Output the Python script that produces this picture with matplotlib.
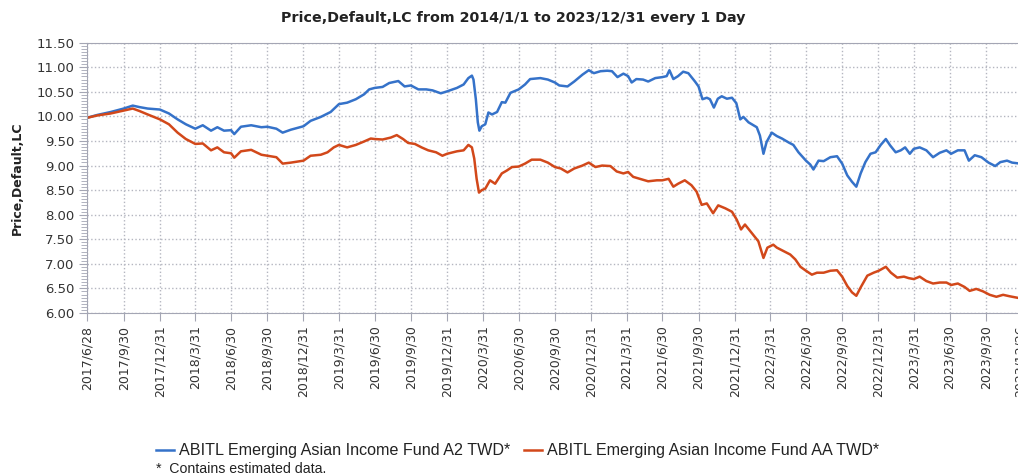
import pandas as pd
import matplotlib
matplotlib.use('Agg')
import matplotlib.pyplot as plt
from matplotlib.ticker import MultipleLocator, AutoMinorLocator, FormatStrFormatter

title = 'Price,Default,LC from 2014/1/1 to 2023/12/31 every 1 Day'
y_label = 'Price,Default,LC'
series_names = ['ABITL Emerging Asian Income Fund A2 TWD*',
                'ABITL Emerging Asian Income Fund AA TWD*']
footnote = '*  Contains estimated data.'

tick_labels = ['2017/6/28', '2017/9/30', '2017/12/31', '2018/3/31', '2018/6/30',
               '2018/9/30', '2018/12/31', '2019/3/31', '2019/6/30', '2019/9/30',
               '2019/12/31', '2020/3/31', '2020/6/30', '2020/9/30', '2020/12/31',
               '2021/3/31', '2021/6/30', '2021/9/30', '2021/12/31', '2022/3/31',
               '2022/6/30', '2022/9/30', '2022/12/31', '2023/3/31', '2023/6/30',
               '2023/9/30', '2023/12/26']

# A2 TWD (blue)
a2_dates = ['2017-06-28', '2017-07-25', '2017-08-28', '2017-09-30', '2017-10-23',
            '2017-11-09', '2017-11-30', '2017-12-31', '2018-01-23', '2018-02-14',
            '2018-03-07', '2018-03-31', '2018-04-19', '2018-05-10', '2018-05-26',
            '2018-06-12', '2018-06-30', '2018-07-08', '2018-07-25', '2018-08-20',
            '2018-09-15', '2018-09-30', '2018-10-23', '2018-11-08', '2018-11-29',
            '2018-12-31', '2019-01-18', '2019-02-13', '2019-03-10', '2019-03-31',
            '2019-04-21', '2019-05-13', '2019-06-03', '2019-06-16', '2019-06-30',
            '2019-07-20', '2019-08-06', '2019-08-29', '2019-09-14', '2019-09-30',
            '2019-10-19', '2019-11-08', '2019-11-24', '2019-12-15', '2019-12-31',
            '2020-01-25', '2020-02-11', '2020-02-23', '2020-03-03', '2020-03-07',
            '2020-03-13', '2020-03-18', '2020-03-22', '2020-03-28', '2020-04-06',
            '2020-04-14', '2020-04-23', '2020-05-06', '2020-05-18', '2020-05-27',
            '2020-06-09', '2020-06-30', '2020-07-16', '2020-07-29', '2020-08-24',
            '2020-09-12', '2020-09-30', '2020-10-11', '2020-11-01', '2020-11-18',
            '2020-12-09', '2020-12-25', '2021-01-07', '2021-01-24', '2021-02-10',
            '2021-02-22', '2021-03-08', '2021-03-23', '2021-04-04', '2021-04-13',
            '2021-04-25', '2021-05-12', '2021-05-25', '2021-06-12', '2021-06-30',
            '2021-07-11', '2021-07-18', '2021-07-28', '2021-08-09', '2021-08-22',
            '2021-09-04', '2021-09-21', '2021-09-30', '2021-10-10', '2021-10-21',
            '2021-10-29', '2021-11-08', '2021-11-18', '2021-11-28', '2021-12-11',
            '2021-12-24', '2022-01-04', '2022-01-14', '2022-01-22', '2022-02-04',
            '2022-02-25', '2022-03-05', '2022-03-14', '2022-03-22', '2022-04-04',
            '2022-04-17', '2022-04-30', '2022-05-17', '2022-05-29', '2022-06-11',
            '2022-06-30', '2022-07-11', '2022-07-19', '2022-08-01', '2022-08-14',
            '2022-08-31', '2022-09-17', '2022-09-30', '2022-10-13', '2022-10-25',
            '2022-11-05', '2022-11-16', '2022-11-28', '2022-12-11', '2022-12-24',
            '2023-01-06', '2023-01-19', '2023-01-30', '2023-02-13', '2023-02-26',
            '2023-03-09', '2023-03-21', '2023-03-31', '2023-04-15', '2023-05-02',
            '2023-05-19', '2023-06-05', '2023-06-22', '2023-07-04', '2023-07-21',
            '2023-08-07', '2023-08-18', '2023-09-02', '2023-09-19', '2023-10-07',
            '2023-10-24', '2023-11-06', '2023-11-23', '2023-12-06', '2023-12-26']
a2_prices = [9.97, 10.03, 10.09, 10.16, 10.22,
             10.19, 10.16, 10.14, 10.06, 9.94,
             9.84, 9.75, 9.82, 9.71, 9.78,
             9.71, 9.72, 9.64, 9.79, 9.82,
             9.78, 9.79, 9.75, 9.67, 9.73,
             9.80, 9.91, 9.99, 10.09, 10.25,
             10.28, 10.35, 10.45, 10.55, 10.58,
             10.60, 10.68, 10.72, 10.61, 10.63,
             10.55, 10.55, 10.53, 10.47, 10.51,
             10.58, 10.65, 10.78, 10.83, 10.75,
             10.35, 9.88, 9.71, 9.80, 9.84,
             10.08, 10.04, 10.09, 10.29, 10.28,
             10.48, 10.55, 10.65, 10.76, 10.78,
             10.75, 10.69, 10.63, 10.61, 10.71,
             10.85, 10.94, 10.88, 10.92, 10.93,
             10.92, 10.80, 10.87, 10.82, 10.69,
             10.76, 10.75, 10.71, 10.78, 10.80,
             10.82, 10.94, 10.76, 10.82, 10.91,
             10.88, 10.71, 10.61, 10.35, 10.38,
             10.35, 10.18, 10.36, 10.41, 10.36,
             10.38, 10.27, 9.94, 9.99, 9.88,
             9.78, 9.61, 9.24, 9.48, 9.67,
             9.60, 9.55, 9.47, 9.42, 9.27,
             9.10, 9.02, 8.92, 9.10, 9.09,
             9.17, 9.19, 9.04, 8.80, 8.67,
             8.57, 8.84, 9.07, 9.24, 9.27,
             9.42, 9.54, 9.41, 9.27, 9.31,
             9.37, 9.24, 9.34, 9.37, 9.31,
             9.17, 9.26, 9.31, 9.24, 9.31,
             9.31, 9.10, 9.21, 9.17, 9.06,
             8.99, 9.07, 9.10, 9.06, 9.04]

# AA TWD (orange-red)
aa_dates = ['2017-06-28', '2017-07-25', '2017-08-28', '2017-09-30', '2017-10-23',
            '2017-11-09', '2017-11-30', '2017-12-31', '2018-01-23', '2018-02-14',
            '2018-03-07', '2018-03-31', '2018-04-19', '2018-05-10', '2018-05-26',
            '2018-06-12', '2018-06-30', '2018-07-08', '2018-07-25', '2018-08-20',
            '2018-09-15', '2018-09-30', '2018-10-23', '2018-11-08', '2018-11-29',
            '2018-12-31', '2019-01-18', '2019-02-13', '2019-03-02', '2019-03-18',
            '2019-03-31', '2019-04-21', '2019-05-13', '2019-06-03', '2019-06-20',
            '2019-06-30', '2019-07-20', '2019-08-10', '2019-08-25', '2019-09-10',
            '2019-09-23', '2019-10-10', '2019-10-27', '2019-11-13', '2019-12-03',
            '2019-12-19', '2019-12-31', '2020-01-25', '2020-02-11', '2020-02-23',
            '2020-03-03', '2020-03-09', '2020-03-15', '2020-03-21', '2020-03-28',
            '2020-04-06', '2020-04-18', '2020-05-01', '2020-05-18', '2020-05-31',
            '2020-06-13', '2020-06-30', '2020-07-16', '2020-08-02', '2020-08-24',
            '2020-09-12', '2020-09-30', '2020-10-15', '2020-11-01', '2020-11-18',
            '2020-12-09', '2020-12-25', '2021-01-11', '2021-01-28', '2021-02-18',
            '2021-03-06', '2021-03-23', '2021-04-04', '2021-04-17', '2021-05-04',
            '2021-05-25', '2021-06-16', '2021-06-30', '2021-07-16', '2021-07-28',
            '2021-08-09', '2021-08-26', '2021-09-12', '2021-09-25', '2021-10-08',
            '2021-10-21', '2021-11-06', '2021-11-19', '2021-12-07', '2021-12-24',
            '2022-01-05', '2022-01-16', '2022-01-26', '2022-02-12', '2022-03-01',
            '2022-03-14', '2022-03-24', '2022-04-08', '2022-04-17', '2022-05-04',
            '2022-05-21', '2022-06-03', '2022-06-16', '2022-06-30', '2022-07-15',
            '2022-07-28', '2022-08-14', '2022-08-31', '2022-09-17', '2022-09-30',
            '2022-10-13', '2022-10-25', '2022-11-05', '2022-11-16', '2022-12-03',
            '2022-12-19', '2023-01-01', '2023-01-19', '2023-02-01', '2023-02-17',
            '2023-03-06', '2023-03-18', '2023-03-31', '2023-04-15', '2023-05-02',
            '2023-05-19', '2023-06-05', '2023-06-22', '2023-07-04', '2023-07-21',
            '2023-08-07', '2023-08-20', '2023-09-06', '2023-09-23', '2023-10-10',
            '2023-10-27', '2023-11-13', '2023-11-30', '2023-12-26']
aa_prices = [9.97, 10.02, 10.06, 10.12, 10.16,
             10.11, 10.04, 9.94, 9.84, 9.67,
             9.54, 9.44, 9.45, 9.31, 9.37,
             9.27, 9.25, 9.16, 9.29, 9.32,
             9.22, 9.20, 9.17, 9.04, 9.06,
             9.10, 9.20, 9.22, 9.27, 9.37,
             9.42, 9.37, 9.42, 9.49, 9.55,
             9.54, 9.53, 9.57, 9.62, 9.54,
             9.46, 9.44, 9.37, 9.31, 9.27,
             9.20, 9.24, 9.29, 9.31, 9.42,
             9.37, 9.14, 8.73, 8.45, 8.50,
             8.53, 8.70, 8.63, 8.84, 8.90,
             8.97, 8.98, 9.04, 9.12, 9.12,
             9.06, 8.97, 8.94, 8.86, 8.94,
             9.00, 9.06, 8.97, 9.00, 8.99,
             8.88, 8.84, 8.87, 8.77, 8.73,
             8.68, 8.70, 8.70, 8.73, 8.57,
             8.63, 8.70, 8.60, 8.47, 8.20,
             8.23, 8.03, 8.19, 8.13, 8.06,
             7.90, 7.70, 7.80, 7.63, 7.46,
             7.12, 7.33, 7.39, 7.33, 7.26,
             7.19, 7.09, 6.94, 6.86, 6.78,
             6.82, 6.82, 6.86, 6.87, 6.74,
             6.55, 6.42, 6.35, 6.52, 6.76,
             6.82, 6.86, 6.94, 6.82, 6.72,
             6.74, 6.71, 6.69, 6.74, 6.65,
             6.60, 6.62, 6.62, 6.57, 6.60,
             6.53, 6.45, 6.49, 6.44, 6.37,
             6.33, 6.37, 6.34, 6.30]

blue = '#3572c9'
red = '#d2481a'
axis_col = '#a4a6b4'
text_col = '#333333'

W, H = 1018, 475
fig = plt.figure(figsize=(W / 100, H / 100), dpi=100)
# plot area runs a couple of pixels past the right edge, like the cropped original
left, right, top, bottom = 86.7, 1020, 42.7, 313
ax = fig.add_axes([left / W, 1 - bottom / H, (right - left) / W, (bottom - top) / H])

ax.plot(pd.to_datetime(a2_dates), a2_prices, color=blue, lw=1.8, label=series_names[0])
ax.plot(pd.to_datetime(aa_dates), aa_prices, color=red, lw=1.8, label=series_names[1])

tick_dates = pd.to_datetime(tick_labels, format='%Y/%m/%d')
ax.set_xlim(tick_dates[0], tick_dates[-1])
ax.set_xticks(tick_dates)
ax.set_xticklabels(tick_labels, rotation=90, fontsize=9, color=text_col)

ax.set_ylim(6.0, 11.5)
ax.yaxis.set_major_locator(MultipleLocator(0.5))
ax.yaxis.set_minor_locator(AutoMinorLocator(8))
ax.yaxis.set_major_formatter(FormatStrFormatter('%.2f'))
for lab in ax.get_yticklabels():
    lab.set_fontsize(9.5)
    lab.set_color(text_col)

ax.grid(True, which='major', color='#b4b6c0', linestyle=':', linewidth=1.0)
for side in ['left', 'bottom', 'top']:
    ax.spines[side].set_color(axis_col)
ax.spines['right'].set_visible(False)
ax.tick_params(axis='both', which='major', length=6, color=axis_col, pad=3)
ax.tick_params(axis='y', which='minor', length=4, color=axis_col)

fig.text(513 / W, 1 - 18 / H, title, ha='center', va='center',
         fontsize=10.3, fontweight='bold', color='#222222')
fig.text(17 / W, 1 - 178 / H, y_label, rotation=90, ha='center', va='center',
         fontsize=9, fontweight='bold', color='#222222')

handles, labels = ax.get_legend_handles_labels()
fig.legend(handles, labels, loc='center left', bbox_to_anchor=(148 / W, 1 - 451 / H),
           ncol=2, frameon=False, prop={'family': 'Liberation Sans', 'size': 11.6},
           handlelength=1.1, handletextpad=0.3, columnspacing=0.9, borderpad=0,
           labelcolor='#222222')
fig.text(156 / W, 1 - 469 / H, footnote, ha='left', va='center',
         family='Liberation Sans', fontsize=10.2, color='#222222')

fig.savefig('out.png', dpi=100)
